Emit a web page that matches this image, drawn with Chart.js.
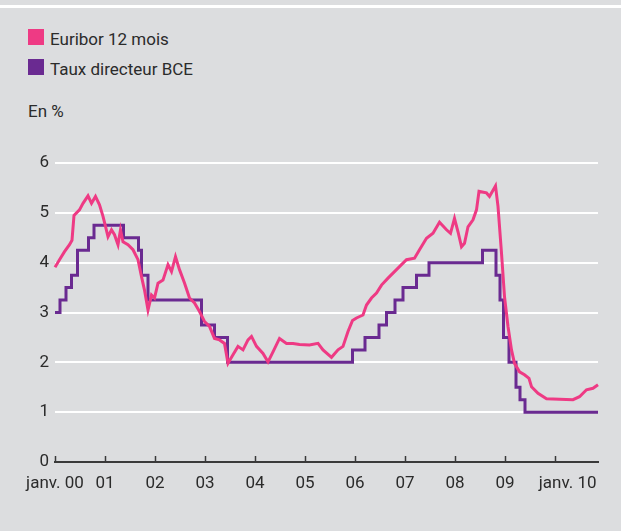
<!DOCTYPE html>
<html>
<head>
<meta charset="utf-8">
<script src="https://cdn.jsdelivr.net/npm/chart.js@4"></script>
<style>
    html, body { margin: 0; padding: 0; }
    body { width: 621px; height: 531px; background: #dcdddf; position: relative; overflow: hidden; font-family: Roboto, sans-serif; color: #2b2b2b; }
    #topline { position: absolute; left: 0; top: 5px; width: 621px; height: 3px; background: #fff; }
    .item { position: absolute; left: 28px; font-size: 17px; line-height: 20px; white-space: nowrap; }
    .box { display: inline-block; width: 16px; height: 16px; vertical-align: top; margin-right: 6px; }
    #unit { position: absolute; left: 28px; top: 101px; font-size: 17px; line-height: 20px; }
    #chart { position: absolute; left: 0; top: 0; }
</style>
</head>
<body>
<div id="topline"></div>
<div class="item" style="top: 29px"><span class="box" style="background: #ee3a84"></span>Euribor 12 mois</div>
<div class="item" style="top: 59px"><span class="box" style="background: #6a2a91"></span>Taux directeur BCE</div>
<div id="unit">En %</div>
<canvas id="chart" width="621" height="531"></canvas>
<script>
// dates in decimal years
const euriborDates = [
    2000.00, 2000.09, 2000.19, 2000.29, 2000.34, 2000.38, 2000.49, 2000.56, 2000.66, 2000.73, 2000.81, 2000.89, 2000.96,
    2001.01, 2001.06, 2001.13, 2001.19, 2001.26, 2001.31, 2001.36, 2001.46, 2001.56, 2001.66, 2001.73, 2001.79, 2001.86, 2001.93, 2001.99,
    2002.06, 2002.16, 2002.26, 2002.33, 2002.41, 2002.49, 2002.59, 2002.69, 2002.79, 2002.89, 2002.99,
    2003.09, 2003.19, 2003.29, 2003.39, 2003.46, 2003.56, 2003.66, 2003.76, 2003.86, 2003.93,
    2004.03, 2004.16, 2004.26, 2004.36, 2004.49, 2004.63, 2004.76, 2004.89,
    2005.09, 2005.26, 2005.36, 2005.53, 2005.66, 2005.76, 2005.86, 2005.95,
    2006.03, 2006.16, 2006.23, 2006.33, 2006.43, 2006.53, 2006.66, 2006.79, 2006.89,
    2007.03, 2007.19, 2007.29, 2007.43, 2007.56, 2007.69, 2007.83, 2007.91, 2007.99,
    2008.06, 2008.13, 2008.19, 2008.26, 2008.36, 2008.43, 2008.48, 2008.63, 2008.69, 2008.81, 2008.86, 2008.93, 2008.99,
    2009.06, 2009.13, 2009.19, 2009.29, 2009.39, 2009.48, 2009.53, 2009.66, 2009.83,
    2010.09, 2010.36, 2010.49, 2010.63, 2010.76, 2010.86
]
const euriborValues = [
    3.91, 4.06, 4.22, 4.36, 4.45, 4.95, 5.06, 5.19, 5.34, 5.19, 5.33, 5.16, 4.93,
    4.73, 4.52, 4.66, 4.56, 4.36, 4.66, 4.42, 4.36, 4.26, 4.06, 3.72, 3.45, 3.05, 3.35, 3.29,
    3.59, 3.65, 3.96, 3.82, 4.12, 3.86, 3.59, 3.29, 3.19, 3.02, 2.82,
    2.72, 2.48, 2.45, 2.38, 1.98, 2.15, 2.32, 2.25, 2.45, 2.52,
    2.32, 2.18, 2.01, 2.21, 2.48, 2.38, 2.38, 2.36,
    2.35, 2.38, 2.25, 2.10, 2.25, 2.32, 2.62, 2.84,
    2.89, 2.95, 3.15, 3.29, 3.39, 3.55, 3.69, 3.82, 3.92,
    4.06, 4.09, 4.26, 4.49, 4.59, 4.81, 4.66, 4.59, 4.89,
    4.62, 4.32, 4.39, 4.72, 4.86, 5.06, 5.43, 5.40, 5.33, 5.54, 5.13, 4.19, 3.32,
    2.72, 2.25, 1.98, 1.81, 1.75, 1.68, 1.51, 1.38, 1.27,
    1.26, 1.25, 1.31, 1.45, 1.48, 1.55
]

// ECB rate: each value holds from its date on
const bceDates = [
    2000.00, 2000.10, 2000.22, 2000.33, 2000.45, 2000.67, 2000.78,
    2001.37, 2001.67, 2001.73, 2001.86,
    2002.93, 2003.19, 2003.45,
    2005.95, 2006.20, 2006.48, 2006.63, 2006.80, 2006.96, 2007.23, 2007.48,
    2008.55, 2008.82, 2008.90, 2008.97, 2009.08, 2009.22, 2009.30, 2009.40, 2010.86
]
const bceValues = [
    3.00, 3.25, 3.50, 3.75, 4.25, 4.50, 4.75,
    4.50, 4.25, 3.75, 3.25,
    2.75, 2.50, 2.00,
    2.25, 2.50, 2.75, 3.00, 3.25, 3.50, 3.75, 4.00,
    4.25, 3.75, 3.25, 2.50, 2.00, 1.50, 1.25, 1.00, 1.00
]

const yearTicks = [2000, 2001, 2002, 2003, 2004, 2005, 2006, 2007, 2008, 2009, 2010]
const yearLabels = ['janv. 00', '01', '02', '03', '04', '05', '06', '07', '08', '09', '      janv. 10']

const toPoints = (xs, ys) => xs.map((x, i) => ({ x: x, y: ys[i] }))

Chart.defaults.font.family = 'Roboto, sans-serif'
Chart.defaults.font.size = 17
Chart.defaults.color = '#2b2b2b'

const chart = new Chart(document.getElementById('chart'), {
    type: 'line',
    data: {
        datasets: [{
            label: 'Euribor 12 mois',
            data: toPoints(euriborDates, euriborValues),
            borderColor: '#ee3a84',
            borderWidth: 3,
            pointRadius: 0,
            tension: 0
        }, {
            label: 'Taux directeur BCE',
            data: toPoints(bceDates, bceValues),
            borderColor: '#6a2a91',
            borderWidth: 3,
            pointRadius: 0,
            stepped: 'before'
        }]
    },
    options: {
        responsive: false,
        animation: false,
        clip: false,
        layout: { padding: { top: 163, right: 23, left: 0, bottom: 0 } },
        plugins: {
            legend: { display: false },
            tooltip: { enabled: false }
        },
        scales: {
            x: {
                type: 'linear',
                min: 2000,
                max: 2010.86,
                afterBuildTicks: s => { s.ticks = yearTicks.map(v => ({ value: v })) },
                afterFit: s => { s.height = 69 },
                ticks: {
                    autoSkip: false,
                    maxRotation: 0,
                    padding: 18,
                    callback: (v) => yearLabels[yearTicks.indexOf(v)]
                },
                grid: {
                    drawOnChartArea: false,
                    drawTicks: true,
                    tickLength: -6,
                    tickColor: '#3a3a3a',
                    tickWidth: 1.5
                },
                border: { display: true, color: '#3a3a3a', width: 2 }
            },
            y: {
                min: 0,
                max: 6,
                afterFit: s => { s.width = 55 },
                ticks: { stepSize: 1, padding: 6 },
                grid: {
                    drawTicks: false,
                    color: ctx => ctx.tick.value === 0 ? 'rgba(0,0,0,0)' : '#ffffff',
                    lineWidth: 2
                },
                border: { display: false }
            }
        }
    }
})
</script>
</body>
</html>
